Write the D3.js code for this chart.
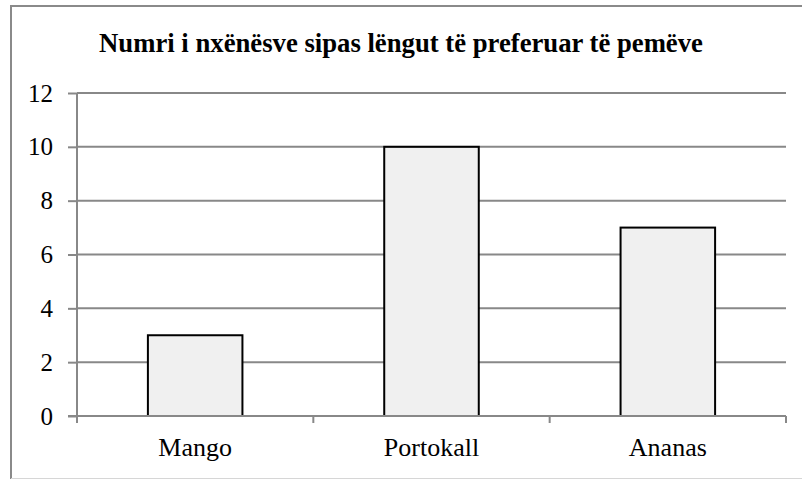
<!DOCTYPE html>
<html>
<head>
<meta charset="utf-8">
<script src="https://cdn.jsdelivr.net/npm/d3@7"></script>
<style>
  html, body { margin: 0; padding: 0; background: #fff; }
  svg { display: block; }
</style>
</head>
<body>
<div id="chart"></div>
<script>
// Chart data
const titleText = "Numri i nxënësve sipas lëngut të preferuar të pemëve";
const categories = ["Mango", "Portokall", "Ananas"];
const values = [3, 10, 7];
const yTicks = [0, 2, 4, 6, 8, 10, 12];

const W = 802, H = 479;
const margin = { left: 77, top: 93, right: 16, bottom: 63 };
const plotW = W - margin.left - margin.right;
const plotH = H - margin.top - margin.bottom;
const serif = "'Liberation Serif', 'Times New Roman', serif";

const svg = d3.select("#chart").append("svg")
  .attr("width", W).attr("height", H);

// Outer frame
svg.append("path")
  .attr("d", `M11,${H} V6 H${W}`)
  .attr("fill", "none").attr("stroke", "#8a8a8a").attr("stroke-width", 2);
svg.append("line")
  .attr("x1", 11).attr("x2", W).attr("y1", 478.5).attr("y2", 478.5)
  .attr("stroke", "#d6d6d6").attr("stroke-width", 1);

// Title
svg.append("text")
  .attr("x", 401).attr("y", 52)
  .attr("text-anchor", "middle")
  .style("font-family", serif)
  .style("font-weight", "bold")
  .style("font-size", "26.7px")
  .style("fill", "#000")
  .text(titleText);

const g = svg.append("g").attr("transform", `translate(${margin.left},${margin.top})`);

const x = d3.scaleBand().domain(categories).range([0, plotW]).paddingInner(0.6).paddingOuter(0.3);
const xCat = d3.scaleBand().domain(categories).range([0, plotW]).padding(0);
const y = d3.scaleLinear().domain([0, 12]).range([plotH, 0]);

// Horizontal gridlines
g.append("g").selectAll("line")
  .data(yTicks.filter(d => d > 0))
  .join("line")
  .attr("x1", 0).attr("x2", plotW)
  .attr("y1", d => y(d)).attr("y2", d => y(d))
  .attr("stroke", "#888").attr("stroke-width", 2);

// Y axis
const yAxis = g.append("g")
  .call(d3.axisLeft(y).tickValues(yTicks).tickSize(9).tickPadding(15).tickFormat(d3.format("d")));
yAxis.attr("font-family", null).attr("font-size", null);
yAxis.select(".domain").attr("stroke", "#888").attr("stroke-width", 2)
  .attr("d", `M0,0V${plotH + 7}`);
yAxis.selectAll(".tick line").attr("stroke", "#888").attr("stroke-width", 2);
yAxis.selectAll(".tick text")
  .style("font-family", serif)
  .style("font-size", "25px").style("fill", "#000");

// Bars
g.append("g").selectAll("rect")
  .data(values)
  .join("rect")
  .attr("x", (d, i) => x(categories[i]))
  .attr("y", d => y(d))
  .attr("width", x.bandwidth())
  .attr("height", d => y(0) - y(d))
  .attr("fill", "#f0f0f0")
  .attr("stroke", "#000").attr("stroke-width", 2);

// X axis with ticks at category boundaries
const xAxisG = g.append("g").attr("transform", `translate(0,${plotH})`);
xAxisG.append("line")
  .attr("x1", -9).attr("x2", plotW)
  .attr("stroke", "#888").attr("stroke-width", 2);
const bounds = categories.map(c => xCat(c)).concat([plotW]);
xAxisG.selectAll("line.bound")
  .data(bounds)
  .join("line").attr("class", "bound")
  .attr("x1", d => d).attr("x2", d => d)
  .attr("y1", 0).attr("y2", 7)
  .attr("stroke", "#888").attr("stroke-width", 2);
xAxisG.selectAll("text")
  .data(categories)
  .join("text")
  .attr("x", d => xCat(d) + xCat.bandwidth() / 2)
  .attr("y", 40)
  .attr("text-anchor", "middle")
  .style("font-family", serif)
  .style("font-size", "26px")
  .style("fill", "#000")
  .text(d => d);
</script>
</body>
</html>
